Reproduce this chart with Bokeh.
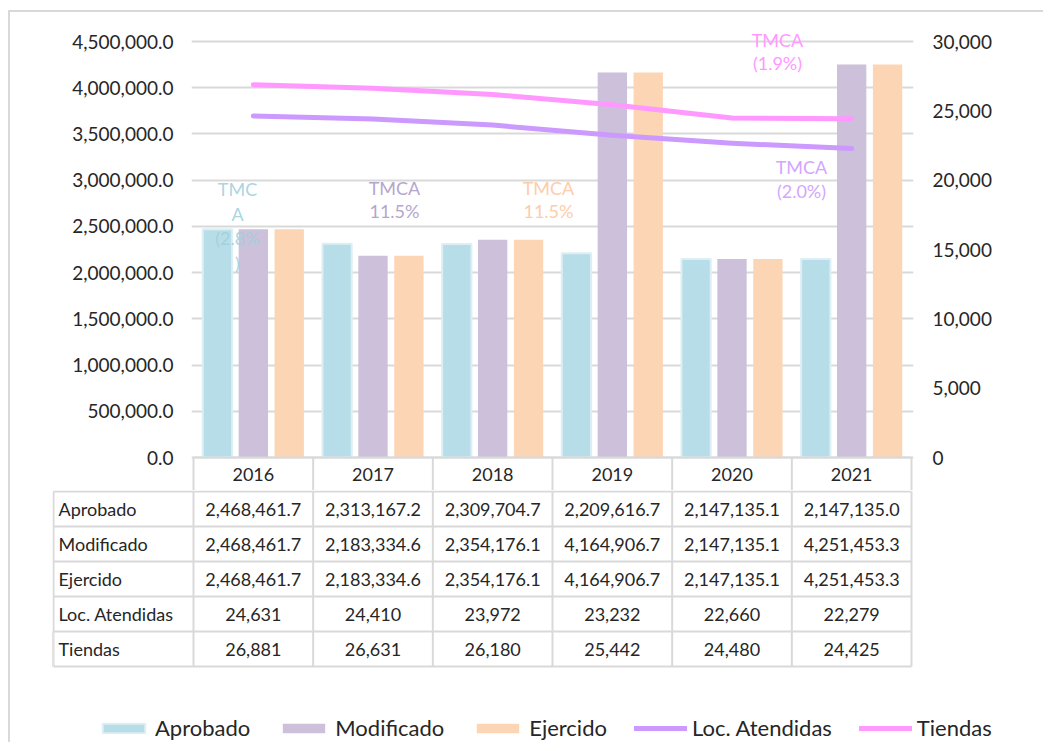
import numpy as np
from bokeh.plotting import figure
from bokeh.models import (Range1d, LinearAxis, FixedTicker, NumeralTickFormatter,
                          Legend, LegendItem)
from bokeh.layouts import column, row
from bokeh.core.properties import value
from bokeh.embed import file_html
from bokeh.resources import INLINE

# ---------------- data ----------------
years = ["2016", "2017", "2018", "2019", "2020", "2021"]
aprobado = [2468461.7, 2313167.2, 2309704.7, 2209616.7, 2147135.1, 2147135.0]
modificado = [2468461.7, 2183334.6, 2354176.1, 4164906.7, 2147135.1, 4251453.3]
ejercido = [2468461.7, 2183334.6, 2354176.1, 4164906.7, 2147135.1, 4251453.3]
loc_atendidas = [24631, 24410, 23972, 23232, 22660, 22279]
tiendas = [26881, 26631, 26180, 25442, 24480, 24425]
left_ticks = [0, 500000, 1000000, 1500000, 2000000, 2500000, 3000000, 3500000, 4000000, 4500000]
right_ticks = [0, 5000, 10000, 15000, 20000, 25000, 30000]
row_labels = ["Aprobado", "Modificado", "Ejercido", "Loc. Atendidas", "Tiendas"]
tmca_texts = ["TMC\nA\n(2.8%\n)", "TMCA\n11.5%", "TMCA\n11.5%", "TMCA\n(1.9%)", "TMCA\n(2.0%)"]

# ---------------- style / layout constants ----------------
FONT = "Lato"
TXT = "#262626"
GRID = "#D9D9D9"
C_APR, C_MOD, C_EJE = "#B7DEE8", "#CCC0DA", "#FCD5B5"
C_LOC, C_TIE = "#CC99FF", "#FF99FF"
U = 119.67            # px per category
PLOT_H = 416.0        # px for 0..4.5M
LMAX, RMAX = 4500000.0, 30000.0

def px_x(px):
    return (px - 193.0) / U

def py_left(py):
    return (457.0 - py) / PLOT_H * LMAX

def py_right(py):
    return (457.0 - py) / PLOT_H * RMAX

# ---------------- top chart ----------------
p = figure(width=1033, height=478,
           x_range=Range1d(-2 / U, 6 + 2 / U),
           y_range=Range1d(-33 / PLOT_H * LMAX, 429 / PLOT_H * LMAX),
           output_backend="svg", toolbar_location=None, x_axis_location=None,
           min_border_left=181, min_border_right=130, min_border_top=16, min_border_bottom=0,
           outline_line_color=None)
p.extra_y_ranges = {"right": Range1d(-33 / PLOT_H * RMAX, 429 / PLOT_H * RMAX)}

ax = p.yaxis[0]
ax.ticker = FixedTicker(ticks=left_ticks)
ax.formatter = NumeralTickFormatter(format="0,0.0")
rax = LinearAxis(y_range_name="right", ticker=FixedTicker(ticks=right_ticks),
                 formatter=NumeralTickFormatter(format="0,0"))
p.add_layout(rax, "right")
for a in (ax, rax):
    a.axis_line_color = None
    a.major_tick_line_color = None
    a.minor_tick_line_color = None
    a.major_tick_out = 0
    a.major_tick_in = 0
    a.major_label_text_font = FONT
    a.major_label_text_font_size = "19px"
    a.major_label_text_color = TXT
ax.major_label_standoff = 18
rax.major_label_standoff = 19

p.xgrid.visible = False
p.ygrid.ticker = FixedTicker(ticks=left_ticks)
p.ygrid.grid_line_color = GRID
p.ygrid.grid_line_width = 2

xc = np.arange(len(years)) + 0.5
bw = 0.245
p.vbar(x=xc - 0.3, top=aprobado, width=bw, fill_color=C_APR, line_color="#DDEEF4", line_width=2)
p.vbar(x=xc, top=modificado, width=bw, fill_color=C_MOD, line_color=None)
p.vbar(x=xc + 0.3, top=ejercido, width=bw, fill_color=C_EJE, line_color=None)

p.line(xc, loc_atendidas, y_range_name="right", line_color=C_LOC, line_width=5,
       line_cap="round", line_join="round")
p.line(xc, tiendas, y_range_name="right", line_color=C_TIE, line_width=5,
       line_cap="round", line_join="round")

# header row of data table (years)
y_hdr = -33 / PLOT_H * LMAX
bounds = list(range(len(years) + 1))
p.segment(x0=bounds, y0=[0] * len(bounds), x1=bounds, y1=[y_hdr] * len(bounds),
          line_color=GRID, line_width=2)
p.segment(x0=[0], y0=[0], x1=[len(years)], y1=[0], line_color=GRID, line_width=2)
p.text(x=xc, y=[y_hdr / 2] * len(years), text=years, text_align="center",
       text_baseline="middle", text_font=value(FONT), text_font_size="18px", text_color=TXT)

# TMCA annotations
p.text(x=[px_x(237)], y=[py_left(225.5)], text=[tmca_texts[0]], text_align="center",
       text_baseline="middle", text_font=value(FONT), text_font_size="18px",
       text_color="#9FD0DD", text_alpha=0.9, text_line_height=1.12)
p.text(x=[px_x(394), px_x(548)], y=[py_left(199), py_left(199)], text=tmca_texts[1:3],
       text_align="center", text_baseline="middle", text_font=value(FONT),
       text_font_size="18px", text_color=["#B5A6CE", "#FDCDAA"], text_line_height=1.06)
p.text(x=[px_x(777), px_x(801)], y=[py_right(51), py_right(178.5)], text=tmca_texts[3:5],
       y_range_name="right", text_align="center", text_baseline="middle",
       text_font=value(FONT), text_font_size="18px", text_color=[C_TIE, "#D3A6FF"],
       text_line_height=1.06)

# ---------------- data table + legend ----------------
t = figure(width=1033, height=252,
           x_range=Range1d(-141 / U, 6 + 132 / U),
           y_range=Range1d(-76 / 35.0, 5 + 1 / 35.0),
           output_backend="svg", toolbar_location=None,
           x_axis_location=None, y_axis_location=None,
           min_border_left=42, min_border_right=0, min_border_top=0, min_border_bottom=0,
           outline_line_color=None)
t.xgrid.visible = False
t.ygrid.visible = False

nrows = len(row_labels)
x0 = -140 / U
t.segment(x0=[x0] * (nrows + 1), y0=list(range(nrows + 1)), x1=[6] * (nrows + 1),
          y1=list(range(nrows + 1)), line_color=GRID, line_width=2)
vx = [x0] + bounds
t.segment(x0=vx, y0=[0] * len(vx), x1=vx, y1=[nrows] * len(vx), line_color=GRID, line_width=2)

rows_vals = [
    ["{:,.1f}".format(v) for v in aprobado],
    ["{:,.1f}".format(v) for v in modificado],
    ["{:,.1f}".format(v) for v in ejercido],
    ["{:,}".format(v) for v in loc_atendidas],
    ["{:,}".format(v) for v in tiendas],
]
t.text(x=[x0 + 5 / U] * nrows, y=[nrows - 0.5 - i for i in range(nrows)], text=row_labels,
       text_align="left", text_baseline="middle", text_font=value(FONT),
       text_font_size="18px", text_color=TXT)
tx, ty, tt = [], [], []
for i, vals in enumerate(rows_vals):
    for j, s in enumerate(vals):
        tx.append(j + 0.5)
        ty.append(nrows - 0.5 - i)
        tt.append(s)
t.text(x=tx, y=ty, text=tt, text_align="center", text_baseline="middle",
       text_font=value(FONT), text_font_size="18px", text_color=TXT)

# legend swatch renderers (one point placed outside the visible range)
far = [-100]
r1 = t.vbar(x=far, top=[1], width=0.2, fill_color=C_APR, line_color="#DDEEF4", line_width=2)
r2 = t.vbar(x=far, top=[1], width=0.2, fill_color=C_MOD, line_color=None)
r3 = t.vbar(x=far, top=[1], width=0.2, fill_color=C_EJE, line_color=None)
r4 = t.line(x=[-100, -99], y=[1, 1], line_color=C_LOC, line_width=5, line_cap="round")
r5 = t.line(x=[-100, -99], y=[1, 1], line_color=C_TIE, line_width=5, line_cap="round")
legend = Legend(items=[LegendItem(label="Aprobado", renderers=[r1]),
                       LegendItem(label="Modificado", renderers=[r2]),
                       LegendItem(label="Ejercido", renderers=[r3]),
                       LegendItem(label="Loc. Atendidas", renderers=[r4]),
                       LegendItem(label="Tiendas", renderers=[r5])],
                orientation="horizontal", location=(45, 1),
                label_text_font=FONT, label_text_font_size="22px", label_text_color=TXT,
                glyph_width=53, glyph_height=12, label_standoff=5, spacing=27,
                padding=0, margin=0, border_line_color=None, background_fill_alpha=0)
t.add_layout(legend)

layout = column(row(p), row(t),
                styles={"margin-left": "8px", "margin-top": "10px",
                        "border-left": "2px solid #D9D9D9",
                        "border-top": "2px solid #D9D9D9"})

open("out.html", "w").write(file_html(layout, INLINE))
